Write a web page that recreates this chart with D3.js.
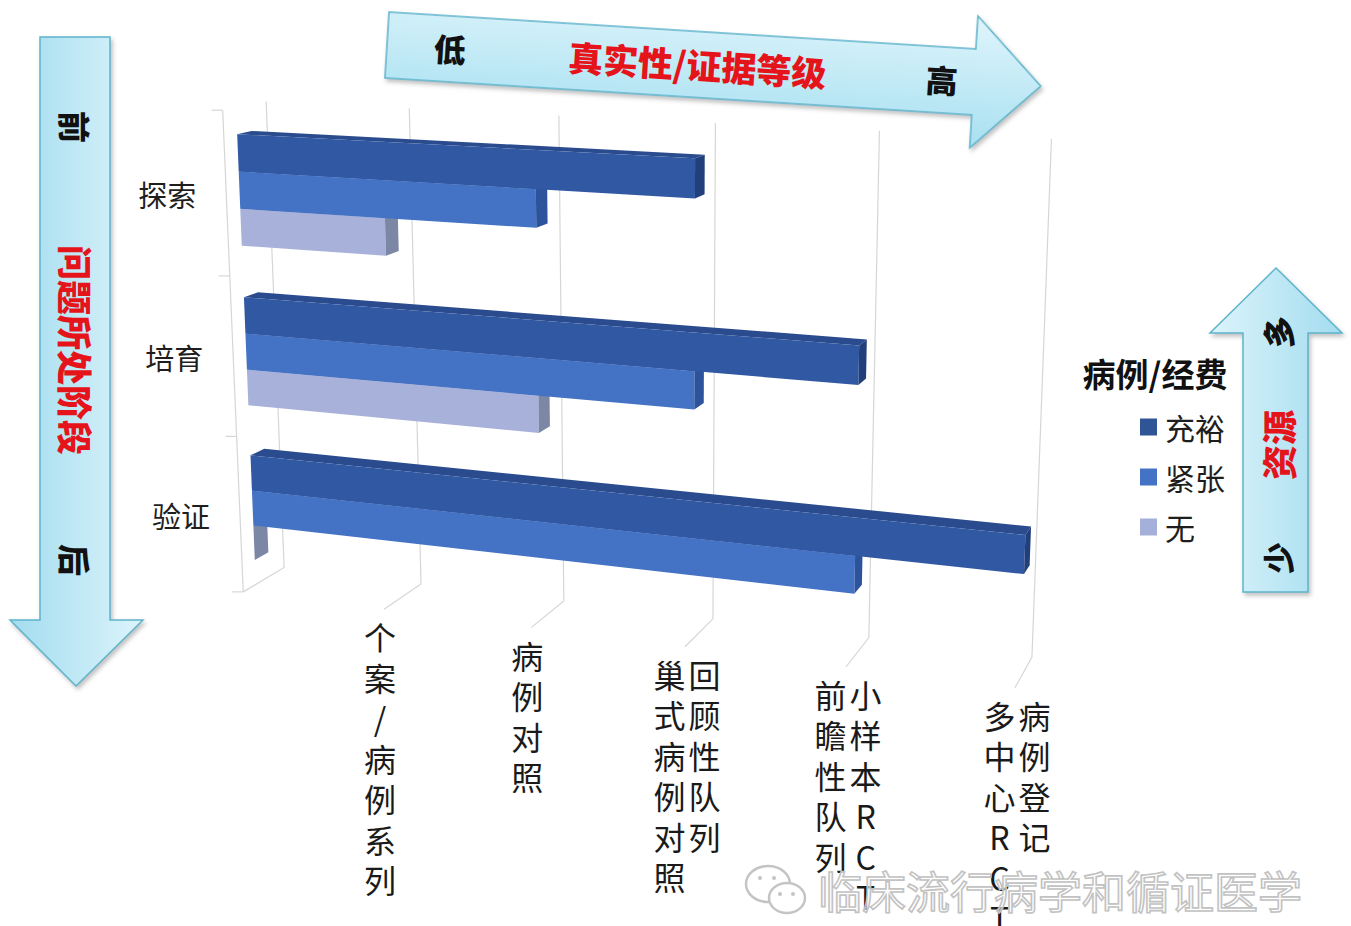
<!DOCTYPE html>
<html><head><meta charset="utf-8">
<script src="https://cdn.jsdelivr.net/npm/d3@7"></script>
<style>html,body{margin:0;padding:0;background:#fff;}svg{display:block;}</style>
</head><body>
<script>
// ---------------- data ----------------
const categories = ["探索", "培育", "验证"];
const seriesNames = ["充裕", "紧张", "无"];
const valuesAmple = [3, 4, 5];   // 充裕
const valuesTight = [2, 3, 4];   // 紧张
const valuesNone  = [1, 2, 0];   // 无
const valueTicks = [0, 1, 2, 3, 4, 5];
// tick label columns, listed right-to-left (vertical writing)
const tickLabelColumns = [
  [],
  ["个案/病例系列"],
  ["病例对照"],
  ["回顾性队列", "巢式病例对照"],
  ["小样本RCT", "前瞻性队列"],
  ["病例登记", "多中心RCT"]
];
const legendTitle = "病例/经费";
const xArrowTexts = ["低", "真实性/证据等级", "高"];
const yArrowTexts = ["前", "问题所处阶段", "后"];
const rArrowTexts = ["多", "资源", "少"];
const watermark = "临床流行病学和循证医学";

// ---------------- styles ----------------
const faceColors = {
  "充裕": {front: "#3158a2", top: "#2a4b8d", end: "#213f7a", legend: "#2f5597"},
  "紧张": {front: "#4472c4", top: "#3a64b0", end: "#2d539c", legend: "#4472c4"},
  "无":   {front: "#a7b1d9", top: "#959fc6", end: "#7c86a5", legend: "#a5b0da"}
};
const W = 1351, H = 926;
const svg = d3.select("body").append("svg").attr("width", W).attr("height", H)
  .style("font-family", "'Noto Sans CJK SC','Noto Sans',sans-serif");

const defs = svg.append("defs");
const gH = defs.append("linearGradient").attr("id", "gLeft").attr("x1", 0).attr("x2", 1).attr("y1", 0).attr("y2", 0);
gH.append("stop").attr("offset", 0).attr("stop-color", "#a3dcef");
gH.append("stop").attr("offset", 1).attr("stop-color", "#dcf4fb");
const gR = defs.append("linearGradient").attr("id", "gRight").attr("x1", 0).attr("x2", 1).attr("y1", 0).attr("y2", 0);
gR.append("stop").attr("offset", 0).attr("stop-color", "#dcf4fb");
gR.append("stop").attr("offset", 1).attr("stop-color", "#a3dcef");
const gT = defs.append("linearGradient").attr("id", "gTop").attr("x1", 0).attr("x2", 0).attr("y1", 0).attr("y2", 1);
gT.append("stop").attr("offset", 0).attr("stop-color", "#dff5fb");
gT.append("stop").attr("offset", 1).attr("stop-color", "#a8e0f1");
const sh = defs.append("filter").attr("id", "shadow").attr("x", "-10%").attr("y", "-10%").attr("width", "130%").attr("height", "130%");
sh.append("feDropShadow").attr("dx", 2).attr("dy", 3).attr("stdDeviation", 2).attr("flood-color", "#777").attr("flood-opacity", 0.45);

// ---------------- 3D projection (perspective, fitted to frame corners) ----------------
// world: X = value, Y = category depth down the wall (0..3), Z = 0 front .. 1 back wall
const frameAnchors = [
  [0,0,0,223,112],[0,1,0,228,278],[0,2,0,235,438],[0,3,0,243,593],
  [0,0,1,268,100],[1,0,1,410,107],[2,0,1,559,115],[3,0,1,714,122],[4,0,1,879,130],[5,0,1,1052,140],
  [0,3,1,285,565],[1,3,1,422,582],[2,3,1,564,602],[3,3,1,712,618],[4,3,1,868,640],[5,3,1,1030,663],
  [1,3,0,383,610],[2,3,0,530,630],[3,3,0,690,642],[4,3,0,845,667],[5,3,0,1017,682]
];
function fitProjection(pts) {
  const S = 400, cx = 600, cy = 400;
  const rows = [], rhs = [];
  pts.forEach(([X,Y,Z,x,y]) => {
    const u = (x - cx) / S, v = (y - cy) / S;
    rows.push([X,Y,Z,1,0,0,0,0,-u*X,-u*Y,-u*Z]); rhs.push(u);
    rows.push([0,0,0,0,X,Y,Z,1,-v*X,-v*Y,-v*Z]); rhs.push(v);
  });
  const n = 11;
  const M = Array.from({length: n}, () => new Array(n + 1).fill(0));
  rows.forEach((r, k) => {
    for (let i = 0; i < n; i++) {
      for (let j = 0; j < n; j++) M[i][j] += r[i] * r[j];
      M[i][n] += r[i] * rhs[k];
    }
  });
  for (let c = 0; c < n; c++) {
    let piv = c;
    for (let r = c + 1; r < n; r++) if (Math.abs(M[r][c]) > Math.abs(M[piv][c])) piv = r;
    [M[c], M[piv]] = [M[piv], M[c]];
    for (let r = 0; r < n; r++) {
      if (r === c) continue;
      const f = M[r][c] / M[c][c];
      for (let j = c; j <= n; j++) M[r][j] -= f * M[c][j];
    }
  }
  const p = M.map((row, i) => row[n] / row[i]);
  return (X, Y, Z) => {
    const w = p[8]*X + p[9]*Y + p[10]*Z + 1;
    return [cx + S * (p[0]*X + p[1]*Y + p[2]*Z + p[3]) / w,
            cy + S * (p[4]*X + p[5]*Y + p[6]*Z + p[7]) / w];
  };
}
const project = fitProjection(frameAnchors);

// scales
const xScale = d3.scaleLinear().domain([0, 5]).range([0, 5]);
const yScale = d3.scaleBand().domain(categories).range([0, 3]).paddingInner(0.32).paddingOuter(0.16);
const sScale = d3.scaleBand().domain(seriesNames).range([0, yScale.bandwidth()]);
const zFront = 0.3, zBack = 0.63;

const line = d3.line();
const poly = pts => line(pts) + "Z";

// ---------------- walls & gridlines ----------------
const grid = svg.append("g").attr("stroke", "#d6d6d6").attr("stroke-width", 1.2).attr("fill", "none");
valueTicks.forEach(v => {
  const X = xScale(v);
  grid.append("path").attr("d", line([project(X,0,1), project(X,3,1), project(X,3,0)]));
});
// category axis (front-left edge) with ticks
const axisG = svg.append("g").attr("stroke", "#d6d6d6").attr("stroke-width", 1.2).attr("fill", "none");
axisG.append("path").attr("d", line([project(0,0,0), project(0,3,0)]));
[0,1,2,3].forEach(Y => {
  const p = project(0, Y, 0);
  axisG.append("path").attr("d", line([[p[0]-11, p[1]], p]));
});

// ---------------- bars ----------------
const table = categories.map((c, i) => ({cat: c, vals: [valuesAmple[i], valuesTight[i], valuesNone[i]]}));
const barsG = svg.append("g");
table.forEach(d => {
  // draw bottom series first so upper bars overlap correctly
  for (let k = seriesNames.length - 1; k >= 0; k--) {
    const s = seriesNames[k];
    const v = xScale(d.vals[k]);
    const y0 = yScale(d.cat) + sScale(s), y1 = y0 + sScale.bandwidth();
    const col = faceColors[s];
    const g = barsG.append("g");
    if (v > 0) {
      g.append("path").attr("fill", col.top)
        .attr("d", poly([project(0,y0,zFront), project(v,y0,zFront), project(v,y0,zBack), project(0,y0,zBack)]));
      g.append("path").attr("fill", col.front)
        .attr("d", poly([project(0,y0,zFront), project(v,y0,zFront), project(v,y1,zFront), project(0,y1,zFront)]));
    }
    g.append("path").attr("fill", col.end)
      .attr("d", poly([project(v,y0,zFront), project(v,y0,zBack), project(v,y1,zBack), project(v,y1,zFront)]));
  }
});

// ---------------- category labels ----------------
categories.forEach(c => {
  const p = project(0, yScale(c) + yScale.bandwidth() / 2, 0);
  svg.append("text").attr("x", p[0] - 30).attr("y", p[1]).attr("text-anchor", "end")
    .attr("dominant-baseline", "central").attr("font-size", 29).attr("fill", "#1e1e1e").text(c);
});

// ---------------- value tick labels (vertical) ----------------
const labG = svg.append("g").attr("font-size", 32).attr("fill", "#1a1a1a").attr("text-anchor", "middle");
valueTicks.forEach((v, i) => {
  const cols = tickLabelColumns[i];
  if (!cols.length) return;
  const base = project(xScale(v), 3, 0);
  const t = labG.append("text");
  cols.forEach((str, ci) => {
    const cxCol = base[0] + (cols.length > 1 ? 2 : -4) + ((cols.length - 1) / 2 - ci) * 35;
    Array.from(str).forEach((ch, j) => {
      t.append("tspan").attr("x", cxCol).attr("y", base[1] + 27 + j * 40.5)
        .attr("dominant-baseline", "central").text(ch);
    });
  });
});

// ---------------- arrows ----------------
// left (vertical, down)
svg.append("path").attr("d", "M40,37H110V620H143L76,686L10,620H40Z")
  .attr("fill", "url(#gLeft)").attr("stroke", "#5db4cb").attr("stroke-width", 1.5).attr("filter", "url(#shadow)");
const leftPos = [127, 350, 560];
yArrowTexts.forEach((t, i) => {
  svg.append("text").attr("transform", `translate(76,${leftPos[i]}) rotate(90)`)
    .attr("text-anchor", "middle").attr("dominant-baseline", "central")
    .attr("font-size", i === 1 ? 35 : 32).attr("font-weight", 900)
    .attr("fill", i === 1 ? "#e5141b" : "#111").text(t);
});
// top (horizontal, right)
const topG = svg.append("g").attr("transform", "translate(387,45) rotate(3.6)");
topG.append("path").attr("d", "M0,-33H588V-66L655,0L588,66V33H0Z")
  .attr("fill", "url(#gTop)").attr("stroke", "#5db4cb").attr("stroke-width", 1.5).attr("filter", "url(#shadow)");
const topPos = [63, 311, 556];
xArrowTexts.forEach((t, i) => {
  topG.append("text").attr("x", topPos[i]).attr("y", -1)
    .attr("text-anchor", "middle").attr("dominant-baseline", "central")
    .attr("font-size", i === 1 ? 35 : 32).attr("font-weight", 900)
    .attr("fill", i === 1 ? "#e5141b" : "#111").text(t);
});
// right (vertical, up)
svg.append("path").attr("d", "M1243,592V333H1210L1276,268L1342,333H1308V592Z")
  .attr("fill", "url(#gRight)").attr("stroke", "#5db4cb").attr("stroke-width", 1.5).attr("filter", "url(#shadow)");
const rightPos = [332, 445, 558];
rArrowTexts.forEach((t, i) => {
  svg.append("text").attr("transform", `translate(1277,${rightPos[i]}) rotate(-90)`)
    .attr("text-anchor", "middle").attr("dominant-baseline", "central")
    .attr("font-size", i === 1 ? 35 : 32).attr("font-weight", 900)
    .attr("fill", i === 1 ? "#e5141b" : "#111").text(t);
});

// ---------------- legend ----------------
const lg = svg.append("g");
lg.append("text").attr("x", 1155).attr("y", 373).attr("text-anchor", "middle").attr("dominant-baseline", "central")
  .attr("font-size", 33).attr("font-weight", 700).attr("fill", "#111").text(legendTitle);
seriesNames.forEach((s, i) => {
  const y = 427 + i * 50;
  lg.append("rect").attr("x", 1140).attr("y", y - 8.5).attr("width", 17).attr("height", 17).attr("fill", faceColors[s].legend);
  lg.append("text").attr("x", 1165).attr("y", y).attr("dominant-baseline", "central")
    .attr("font-size", 30).attr("fill", "#1e1e1e").text(s);
});

// ---------------- watermark ----------------
const wm = svg.append("g").attr("fill", "none").attr("stroke", "#c4c4c4").attr("stroke-width", 2.5);
wm.append("ellipse").attr("cx", 768).attr("cy", 884).attr("rx", 22).attr("ry", 18);
wm.append("ellipse").attr("cx", 787).attr("cy", 898).attr("rx", 18).attr("ry", 15).attr("fill", "#fff");
[[760,878],[774,878],[780,894],[793,894]].forEach(([x,y]) => wm.append("circle").attr("cx", x).attr("cy", y).attr("r", 2).attr("fill", "#c4c4c4").attr("stroke", "none"));
svg.append("text").attr("x", 818).attr("y", 890).attr("dominant-baseline", "central")
  .attr("font-size", 44).attr("fill", "#fff").attr("stroke", "#c2c2c2").attr("stroke-width", 1.6)
  .attr("fill-opacity", 0.6).text(watermark);
</script>
</body></html>
